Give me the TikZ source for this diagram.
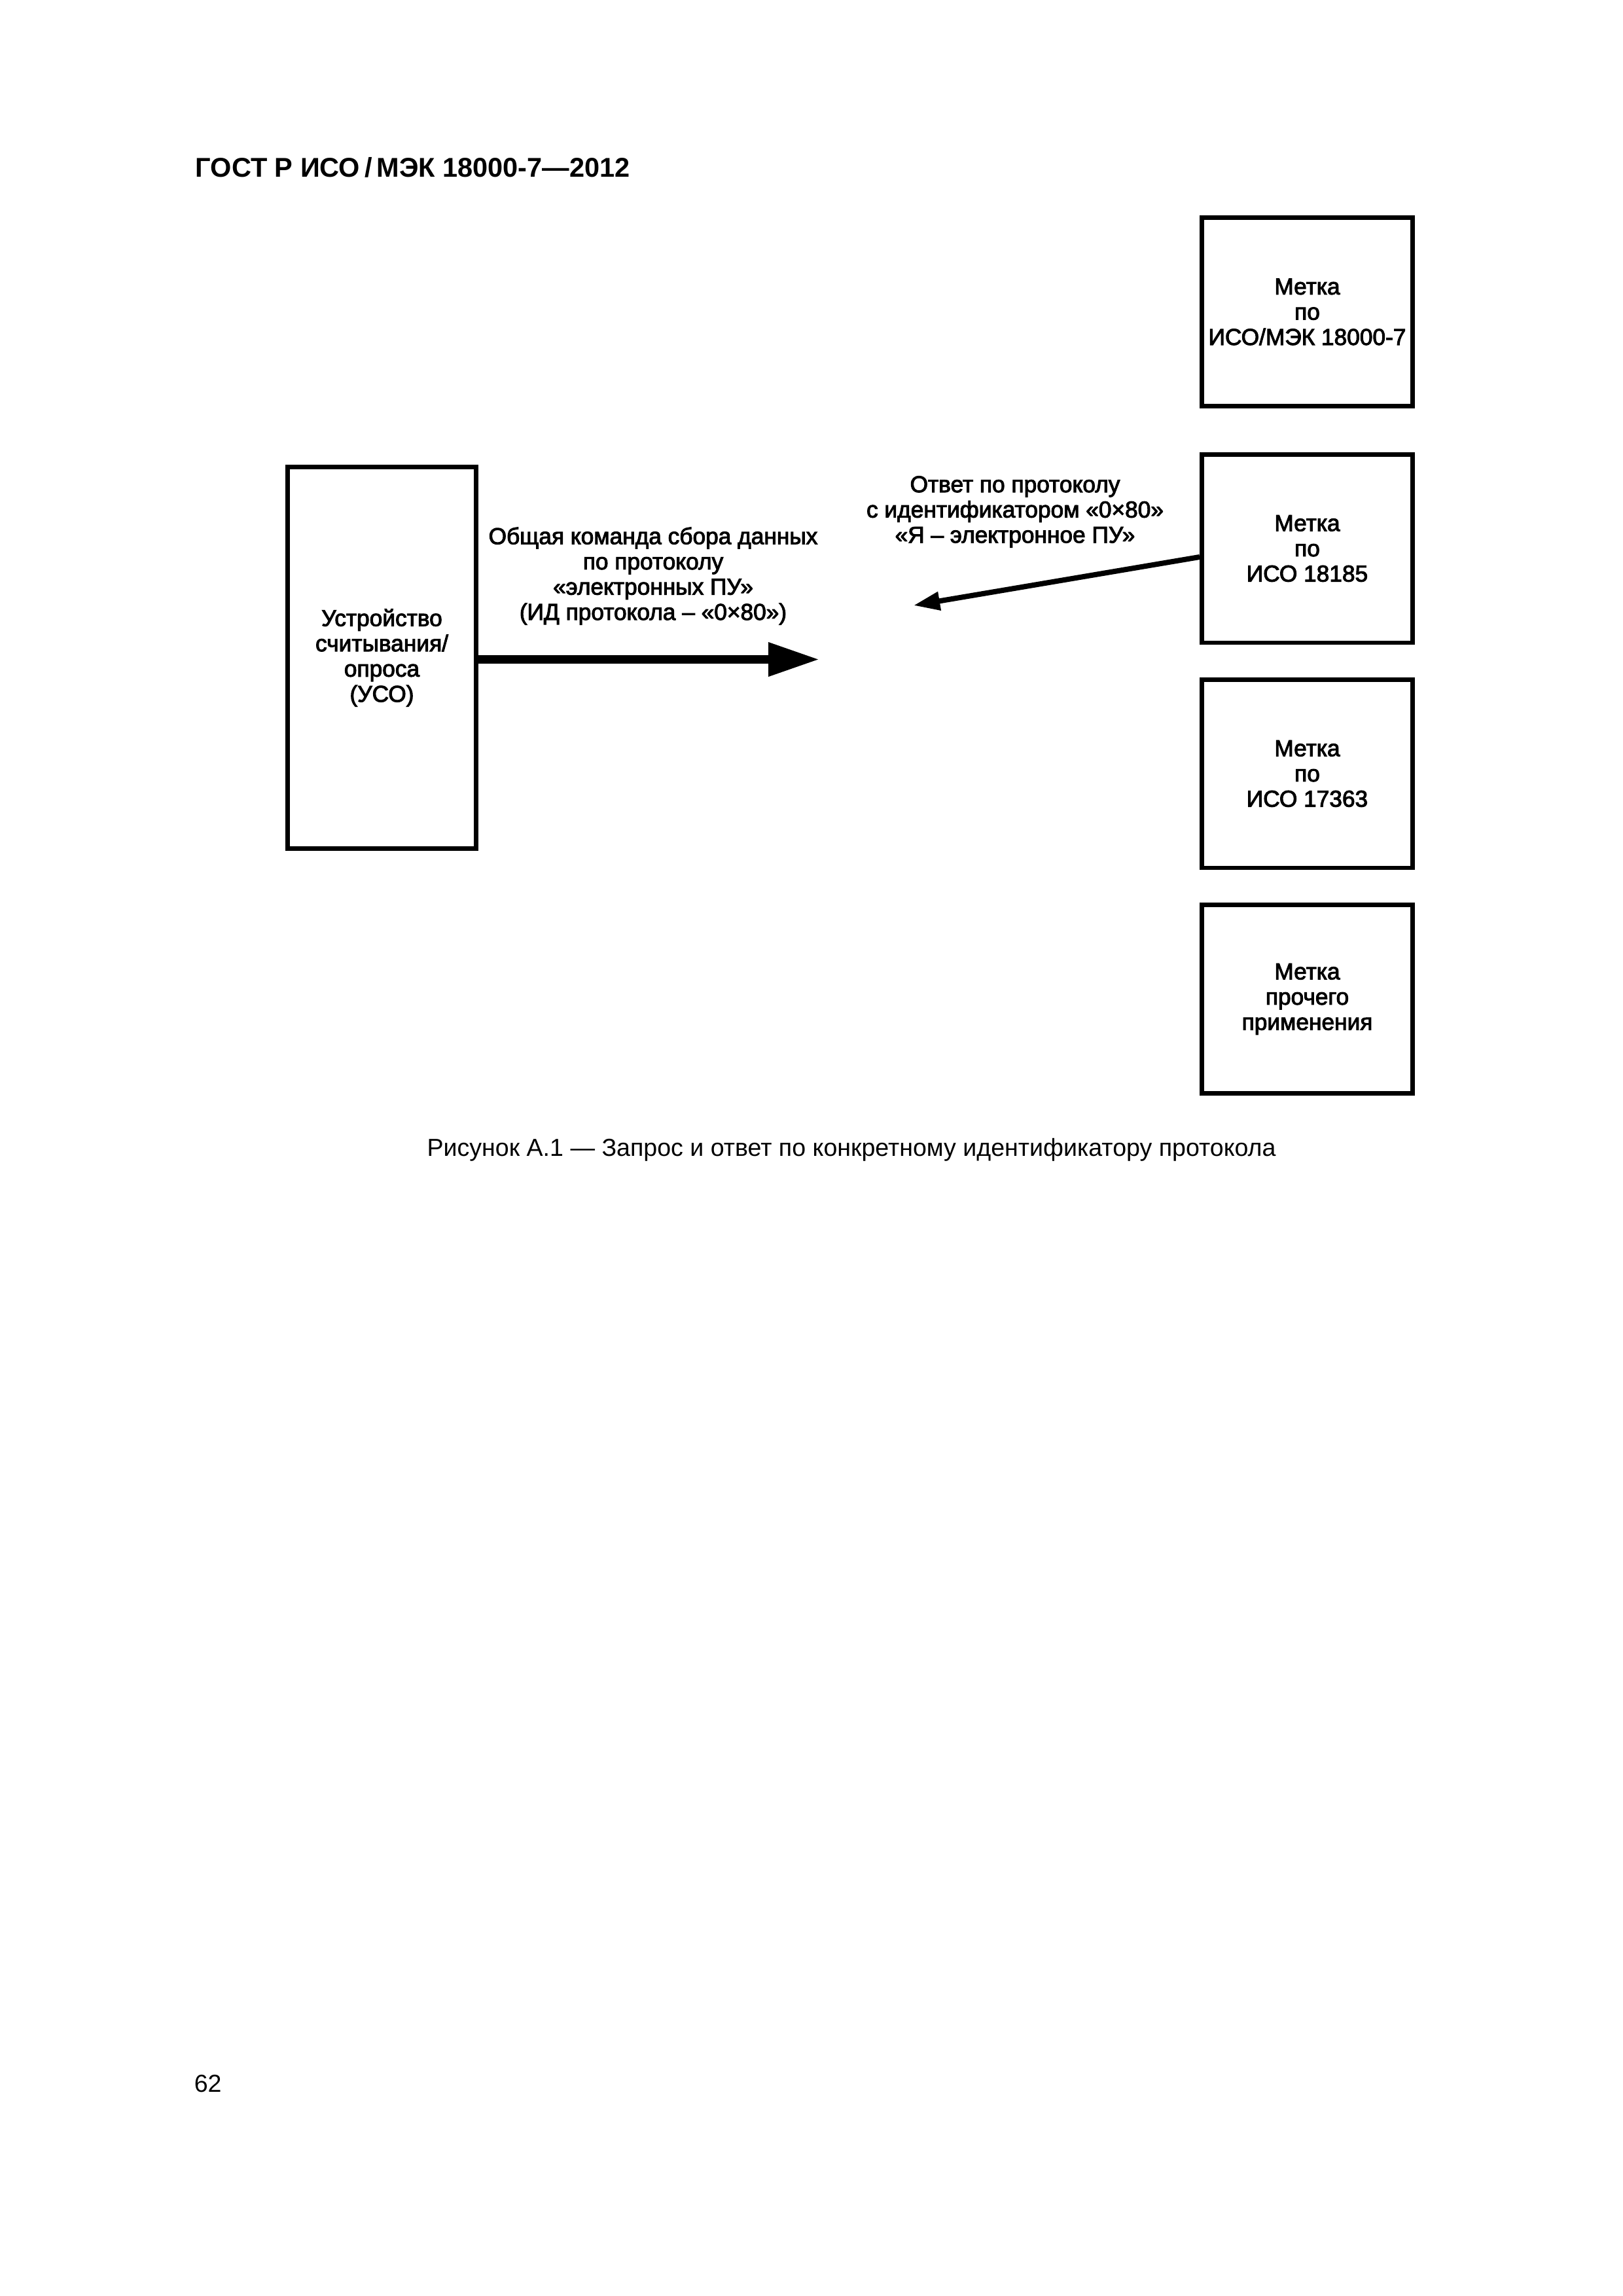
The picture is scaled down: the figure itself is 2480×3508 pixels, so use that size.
\documentclass[tikz,border=0pt]{standalone}
\usepackage{fontspec}
\setmainfont{Liberation Sans}
\newfontfamily\diagfont[FakeBold=2.8]{Liberation Sans}
\usetikzlibrary{arrows.meta}
\begin{document}
\begin{tikzpicture}[x=0.0846667mm,y=-0.0846667mm,
  box/.style={draw=black, line width=0.59mm, rectangle, align=center, inner sep=0pt, font=\diagfont\fontsize{8.5}{9.3}\selectfont},
  tagbox/.style={box, minimum width=27.26mm, minimum height=24.38mm},
  lbl/.style={align=center, inner sep=0pt, font=\diagfont\fontsize{8.5}{9.3}\selectfont},
  plain/.style={inner sep=0pt, font=\fontsize{9.05}{11}\selectfont}
]
\useasboundingbox (0,0) rectangle (2480,3508);
\fill[white] (0,0) rectangle (2480,3508);

\node[anchor=base west, inner sep=0pt, font=\bfseries\fontsize{10}{12}\selectfont] (title) at (298,270) {ГОСТ Р ИСО\,/\,МЭК 18000-7—2012};

\node[box, minimum width=24.38mm, minimum height=49.36mm] (uso) at (583.5,1005) {Устройство\\считывания/\\опроса\\(УСО)};

\node[tagbox] (t1) at (1997.5,476.5) {Метка\\по\\ИСО/МЭК 18000-7};
\node[tagbox] (t2) at (1997.5,838) {Метка\\по\\ИСО 18185};
\node[tagbox] (t3) at (1997.5,1182) {Метка\\по\\ИСО 17363};
\node[tagbox] (t4) at (1997.5,1526.5) {Метка\\прочего\\применения};

\coordinate (cmdtip) at (1252,1007.5);
\draw[line width=1.1mm, -{Triangle[length=6.6mm,width=4.15mm]}] (uso.east |- cmdtip) -- (cmdtip);
\node[lbl] (cmdlbl) at (998,880) {Общая команда сбора данных\\по протоколу\\«электронных ПУ»\\(ИД протокола – «0×80»)};

\coordinate (resptip) at (1396,925);
\draw[line width=0.68mm, -{Triangle[length=3.4mm,width=2.3mm]}] ([yshift=-1.1mm]t2.west) -- (resptip);
\node[lbl] (resplbl) at (1551,782) {Ответ по протоколу\\с идентификатором «0×80»\\«Я – электронное ПУ»};

\node[plain, anchor=base] (cap) at (1301,1766) {Рисунок А.1 — Запрос и ответ по конкретному идентификатору протокола};
\node[plain, anchor=base west] (pg) at (296,3196) {62};
\end{tikzpicture}
\end{document}
